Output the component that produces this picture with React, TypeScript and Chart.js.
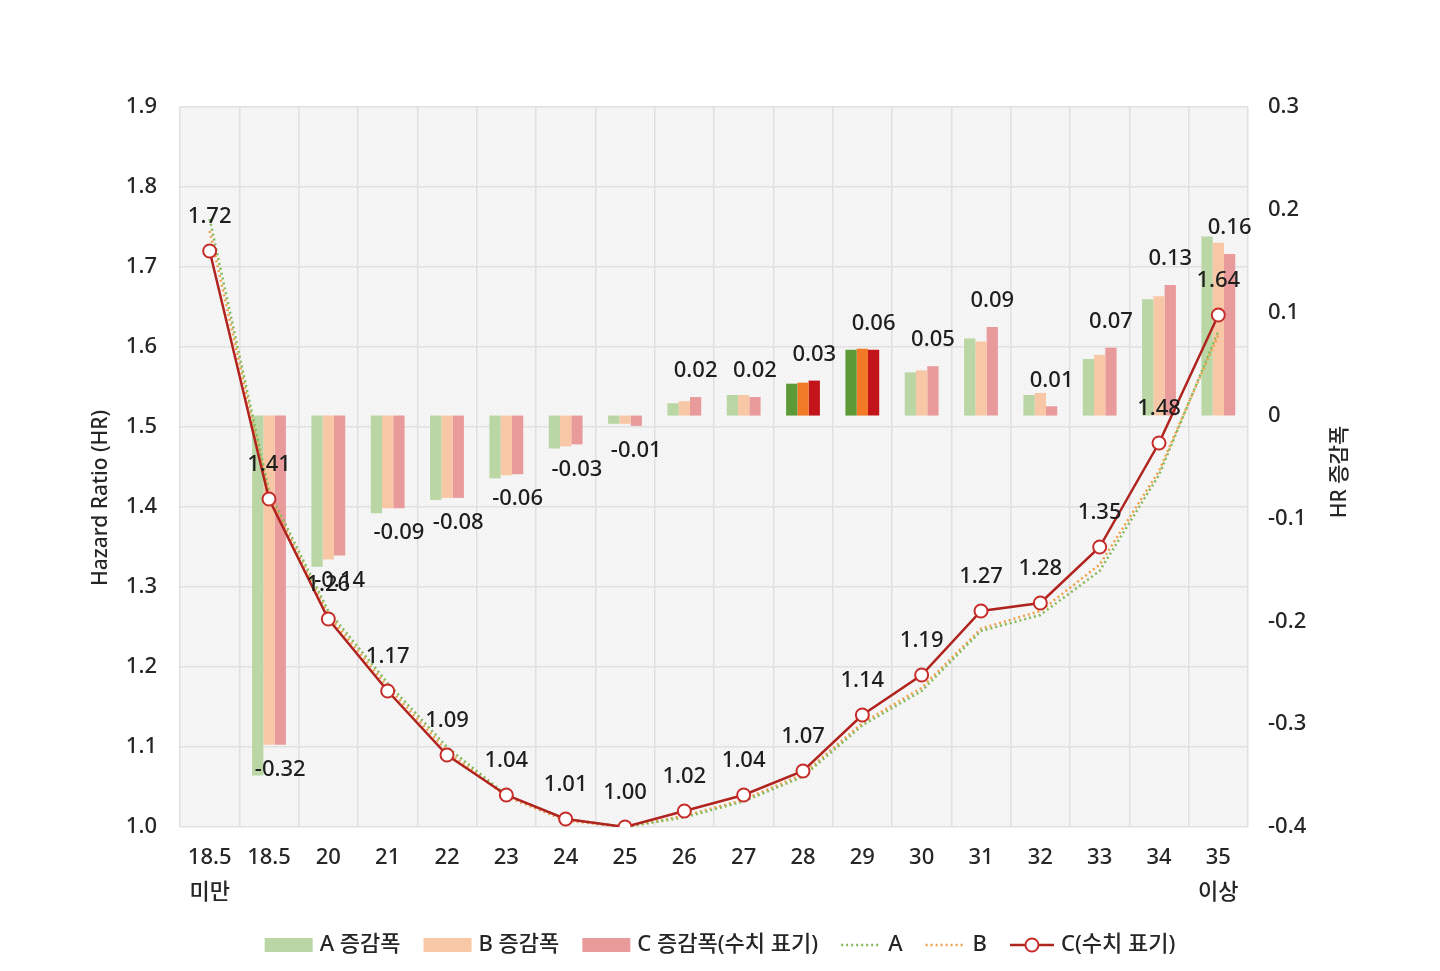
import React, { useEffect, useRef } from "react";
import { Chart, registerables } from "chart.js";

Chart.register(...registerables);

const categories: (string | string[])[] = [
  ["18.5", "미만"], "18.5", "20", "21", "22", "23", "24", "25", "26", "27",
  "28", "29", "30", "31", "32", "33", "34", ["35", "이상"],
];

// HR change bars (right axis)
const changeA: (number | null)[] = [null, -0.35, -0.147, -0.095, -0.082, -0.061, -0.032, -0.008, 0.012, 0.02, 0.031, 0.064, 0.042, 0.075, 0.02, 0.055, 0.113, 0.174];
const changeB: (number | null)[] = [null, -0.32, -0.14, -0.09, -0.08, -0.058, -0.03, -0.008, 0.014, 0.02, 0.032, 0.065, 0.044, 0.072, 0.022, 0.059, 0.116, 0.168];
const changeC: (number | null)[] = [null, -0.32, -0.136, -0.09, -0.08, -0.057, -0.028, -0.01, 0.018, 0.018, 0.034, 0.064, 0.048, 0.086, 0.009, 0.066, 0.127, 0.157];

// Hazard ratio lines (left axis)
const hrA: number[] = [1.76, 1.42, 1.27, 1.18, 1.1, 1.04, 1.01, 1.0, 1.012, 1.032, 1.063, 1.127, 1.17, 1.245, 1.265, 1.32, 1.44, 1.62];
const hrB: number[] = [1.745, 1.415, 1.265, 1.175, 1.095, 1.038, 1.008, 1.0, 1.014, 1.034, 1.066, 1.13, 1.174, 1.248, 1.27, 1.328, 1.445, 1.615];
const hrC: number[] = [1.72, 1.41, 1.26, 1.17, 1.09, 1.04, 1.01, 1.0, 1.02, 1.04, 1.07, 1.14, 1.19, 1.27, 1.28, 1.35, 1.48, 1.64];

const highlighted: number[] = [10, 11];

const leftTitle = "Hazard Ratio (HR)";
const rightTitle = "HR 증감폭";

const FONT = "'Noto Sans', 'Noto Sans CJK KR', sans-serif";
const TEXT = "#262626";

const paleA = "#b9d6a4";
const paleB = "#f8c7a6";
const paleC = "#e99a9a";
const strongA = "#5c9a38";
const strongB = "#f07a26";
const strongC = "#c3141a";

const colorsFor = (pale: string, strong: string) =>
  categories.map((_, i) => (highlighted.includes(i) ? strong : pale));

const bgPlugin = {
  id: "plotBg",
  beforeDraw(chart: any) {
    const { ctx, chartArea } = chart;
    if (!chartArea) return;
    const p = document.createElement("canvas");
    p.width = 4;
    p.height = 4;
    const pc = p.getContext("2d")!;
    pc.fillStyle = "#f6f6f6";
    pc.fillRect(0, 0, 4, 4);
    pc.fillStyle = "#ebebeb";
    pc.fillRect(0, 0, 1, 1);
    pc.fillRect(2, 2, 1, 1);
    const pattern = ctx.createPattern(p, "repeat");
    ctx.save();
    ctx.fillStyle = pattern || "#f5f5f5";
    ctx.fillRect(chartArea.left, chartArea.top, chartArea.right - chartArea.left, chartArea.bottom - chartArea.top);
    ctx.restore();
  },
};

const labelPlugin = {
  id: "valueLabels",
  afterDatasetsDraw(chart: any) {
    const { ctx } = chart;
    ctx.save();
    ctx.font = `500 22px ${FONT}`;
    ctx.fillStyle = "#1e1e1e";
    ctx.textAlign = "center";
    ctx.textBaseline = "middle";
    chart.data.datasets.forEach((ds: any, di: number) => {
      if (!ds.showValues) return;
      const meta = chart.getDatasetMeta(di);
      meta.data.forEach((el: any, i: number) => {
        const v = ds.data[i];
        if (v === null || v === undefined) return;
        let y: number;
        if (ds.type === "bar") {
          y = v < 0 ? el.y + 25 : el.y - 26;
        } else {
          y = el.y - 34;
        }
        ctx.fillText(v.toFixed(2), el.x, y);
      });
    });
    ctx.restore();
  },
};

const titlesPlugin = {
  id: "axisTitles",
  afterDraw(chart: any) {
    const { ctx, chartArea } = chart;
    ctx.save();
    ctx.font = `500 21px ${FONT}`;
    ctx.fillStyle = TEXT;
    ctx.textAlign = "center";
    ctx.textBaseline = "middle";
    const mid = (chartArea.top + chartArea.bottom) / 2;
    ctx.save();
    ctx.translate(chartArea.left - 79, mid + 31);
    ctx.rotate(-Math.PI / 2);
    ctx.fillText(leftTitle, 0, 0);
    ctx.restore();
    ctx.save();
    ctx.translate(chartArea.right + 92, mid + 5);
    ctx.rotate(-Math.PI / 2);
    ctx.fillText(rightTitle, 0, 0);
    ctx.restore();
    ctx.restore();
  },
};

const legendPlugin = {
  id: "customLegend",
  afterDraw(chart: any) {
    const { ctx } = chart;
    const items = chart.data.datasets
      .map((ds: any) => ds)
      .sort((a: any, b: any) => a.legendOrder - b.legendOrder);
    ctx.save();
    ctx.font = `500 22px ${FONT}`;
    ctx.textBaseline = "middle";
    const symW = (ds: any) => (ds.type === "bar" ? 48 : ds.borderDash && ds.borderDash.length ? 40 : 44);
    const gapSym = 7;
    const gapItem = 23;
    const widths = items.map((ds: any) => symW(ds) + gapSym + ctx.measureText(ds.label).width);
    const total = widths.reduce((a: number, b: number) => a + b, 0) + gapItem * (items.length - 1);
    let x = chart.width / 2 - total / 2;
    const cy = 945;
    items.forEach((ds: any, idx: number) => {
      const w = symW(ds);
      if (ds.type === "bar") {
        ctx.fillStyle = ds.legendColor;
        ctx.fillRect(x, cy - 7, w, 14);
      } else {
        ctx.save();
        ctx.strokeStyle = ds.borderColor;
        ctx.lineWidth = ds.borderWidth;
        ctx.setLineDash(ds.borderDash || []);
        ctx.beginPath();
        ctx.moveTo(x, cy);
        ctx.lineTo(x + w, cy);
        ctx.stroke();
        ctx.restore();
        if (ds.pointRadius > 0) {
          ctx.save();
          ctx.beginPath();
          ctx.arc(x + w / 2, cy, ds.pointRadius, 0, Math.PI * 2);
          ctx.fillStyle = ds.pointBackgroundColor;
          ctx.fill();
          ctx.lineWidth = ds.pointBorderWidth;
          ctx.strokeStyle = ds.pointBorderColor;
          ctx.stroke();
          ctx.restore();
        }
      }
      ctx.fillStyle = TEXT;
      ctx.textAlign = "left";
      ctx.fillText(ds.label, x + w + gapSym, cy);
      x += widths[idx] + gapItem;
    });
    ctx.restore();
  },
};

export default function App() {
  const canvasRef = useRef<HTMLCanvasElement | null>(null);

  useEffect(() => {
    if (!canvasRef.current) return;
    Chart.defaults.font.family = FONT;
    const chart = new Chart(canvasRef.current, {
      type: "bar",
      data: {
        labels: categories,
        datasets: [
          {
            type: "line",
            label: "C(수치 표기)",
            data: hrC,
            yAxisID: "y",
            borderColor: "#b0231f",
            borderWidth: 2.5,
            pointRadius: 6.5,
            pointBackgroundColor: "#ffffff",
            pointBorderColor: "#c62d2a",
            pointBorderWidth: 2,
            tension: 0,
            order: 0,
            showValues: true,
            legendOrder: 5,
          } as any,
          {
            type: "line",
            label: "A",
            data: hrA,
            yAxisID: "y",
            borderColor: "#86b95a",
            borderWidth: 2.5,
            borderDash: [2, 3],
            pointRadius: 0,
            tension: 0,
            order: 1,
            legendOrder: 3,
          } as any,
          {
            type: "line",
            label: "B",
            data: hrB,
            yAxisID: "y",
            borderColor: "#f0a04c",
            borderWidth: 2.5,
            borderDash: [2, 3],
            pointRadius: 0,
            tension: 0,
            order: 1,
            legendOrder: 4,
          } as any,
          {
            type: "bar",
            label: "A 증감폭",
            data: changeA,
            yAxisID: "y1",
            backgroundColor: colorsFor(paleA, strongA),
            legendColor: paleA,
            barPercentage: 1,
            categoryPercentage: 0.57,
            order: 2,
            legendOrder: 0,
          } as any,
          {
            type: "bar",
            label: "B 증감폭",
            data: changeB,
            yAxisID: "y1",
            backgroundColor: colorsFor(paleB, strongB),
            legendColor: paleB,
            barPercentage: 1,
            categoryPercentage: 0.57,
            order: 2,
            legendOrder: 1,
          } as any,
          {
            type: "bar",
            label: "C 증감폭(수치 표기)",
            data: changeC,
            yAxisID: "y1",
            backgroundColor: colorsFor(paleC, strongC),
            legendColor: paleC,
            barPercentage: 1,
            categoryPercentage: 0.57,
            order: 2,
            showValues: true,
            legendOrder: 2,
          } as any,
        ],
      },
      options: {
        animation: false,
        responsive: true,
        maintainAspectRatio: false,
        layout: { padding: { top: 107, left: 88, right: 83, bottom: 64 } },
        plugins: {
          legend: { display: false },
          tooltip: { enabled: false },
        },
        scales: {
          x: {
            grid: { color: "#e0e0e0", lineWidth: 1.5, offset: true, drawTicks: false },
            border: { display: false },
            ticks: {
              color: TEXT,
              font: { size: 22, weight: "500", lineHeight: 1.6 },
              padding: 13,
              maxRotation: 0,
              autoSkip: false,
            },
            afterFit(scale: any) {
              scale.height = 80;
            },
          },
          y: {
            position: "left",
            min: 1.0,
            max: 1.9,
            grid: { color: "#e0e0e0", lineWidth: 1.5, drawTicks: false },
            border: { display: false },
            ticks: {
              stepSize: 0.1,
              color: TEXT,
              font: { size: 22, weight: "500" },
              padding: 23,
              callback: (v: any) => Number(v).toFixed(1),
            },
            afterFit(scale: any) {
              scale.width = 92;
            },
          },
          y1: {
            position: "right",
            min: -0.4,
            max: 0.3,
            grid: { display: false, drawTicks: false },
            border: { display: false },
            ticks: {
              stepSize: 0.1,
              color: TEXT,
              font: { size: 22, weight: "500" },
              padding: 20,
              callback: (v: any) => {
                const n = Math.round(Number(v) * 10) / 10;
                return n === 0 ? "0" : n.toFixed(1);
              },
            },
            afterFit(scale: any) {
              scale.width = 109;
            },
          },
        },
      },
      plugins: [bgPlugin, labelPlugin, titlesPlugin, legendPlugin],
    });
    return () => chart.destroy();
  }, []);

  return (
    <div style={{ position: "fixed", left: 0, top: 0, width: 1440, height: 971, background: "#ffffff" }}>
      <canvas ref={canvasRef} />
    </div>
  );
}
